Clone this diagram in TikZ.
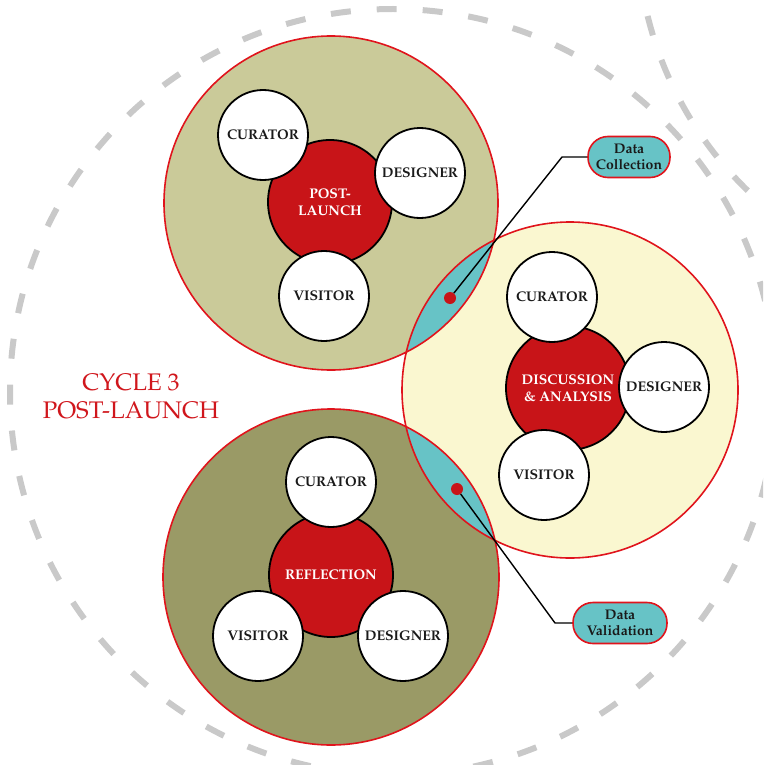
\documentclass[tikz,border=0pt]{standalone}
\usepackage[T1]{fontenc}
\renewcommand{\rmdefault}{ppl}
\definecolor{oliveLight}{HTML}{CACA99}
\definecolor{oliveDark}{HTML}{9A9A66}
\definecolor{paleYellow}{HTML}{FAF7D0}
\definecolor{lensTeal}{HTML}{67C3C6}
\definecolor{hubRed}{HTML}{C81418}
\definecolor{rimRed}{HTML}{E0141C}
\definecolor{titleRed}{HTML}{D0161C}
\definecolor{ink}{HTML}{1A1A1A}
\definecolor{cycleGray}{HTML}{C9C9C9}
\begin{document}
\begin{tikzpicture}[x=1pt,y=-1pt,
  cycleline/.style={draw=cycleGray, line width=6pt, dash pattern=on 20pt off 26pt},
  rim/.style={draw=rimRed, line width=1.6pt},
  hub/.style={circle, draw=black, line width=1.8pt, fill=hubRed, minimum size=124pt,
    inner sep=0pt, align=center, text=white,
    font=\bfseries\fontsize{14}{17}\selectfont},
  member/.style={circle, draw=black, line width=1.8pt, fill=white, minimum size=90pt,
    inner sep=0pt, text=ink, font=\bfseries\fontsize{14}{17}\selectfont},
  tag/.style={rectangle, rounded corners=20pt, draw=rimRed, line width=1.6pt,
    fill=lensTeal, minimum height=41pt, inner sep=0pt, align=center, text=ink,
    font=\bfseries\fontsize{14}{16}\selectfont},
  pin/.style={circle, fill=hubRed, minimum size=12pt, inner sep=0pt},
  leader/.style={draw=black, line width=1.4pt}
]
\useasboundingbox (0,0) rectangle (763,765);
\clip (0,0) rectangle (763,765);

% cycle outlines
\draw[cycleline] (393,392) circle (383pt);
\draw[cycleline] (1004,-72) circle (367pt);

% stage discs
\coordinate (topC) at (331,203);
\coordinate (rightC) at (570,390);
\coordinate (botC) at (331,577);
\fill[oliveLight] (topC) circle (167pt);
\fill[oliveDark] (botC) circle (168pt);
\fill[paleYellow] (rightC) circle (168pt);

% overlaps between stages
\begin{scope}
  \clip (topC) circle (167pt);
  \fill[lensTeal] (rightC) circle (168pt);
\end{scope}
\begin{scope}
  \clip (botC) circle (168pt);
  \fill[lensTeal] (rightC) circle (168pt);
\end{scope}

\draw[rim] (topC) circle (167pt);
\draw[rim] (botC) circle (168pt);
\draw[rim] (rightC) circle (168pt);

% callouts
\node[tag, minimum width=82pt] (collect) at (629,157) {Data\\Collection};
\node[tag, minimum width=94pt] (validate) at (620,623) {Data\\Validation};
\node[pin] (pinA) at (450,298) {};
\node[pin] (pinB) at (457,489) {};
\coordinate (bendA) at (562,157);
\coordinate (bendB) at (555,623);
\draw[leader] (pinA) -- (bendA) -- (collect);
\draw[leader] (pinB) -- (bendB) -- (validate);

% stage: post-launch
\node[hub] (hubT) at (330,202) {POST-\\LAUNCH};
\node[member] (curT) at (263,135) {CURATOR};
\node[member] (desT) at (420,173) {DESIGNER};
\node[member] (visT) at (324,296) {VISITOR};

% stage: discussion & analysis
\node[hub] (hubR) at (568,388) {DISCUSSION\\\& ANALYSIS};
\node[member] (curR) at (552,297) {CURATOR};
\node[member] (desR) at (664,387) {DESIGNER};
\node[member] (visR) at (544,475) {VISITOR};

% stage: reflection
\node[hub] (hubB) at (331,575) {REFLECTION};
\node[member] (curB) at (331,482) {CURATOR};
\node[member] (visB) at (258,636) {VISITOR};
\node[member] (desB) at (403,636) {DESIGNER};

% cycle title
\node[text=titleRed, align=center, font=\fontsize{24}{28}\selectfont] (title) at (131,396)
  {CYCLE 3\\POST-LAUNCH};
\end{tikzpicture}
\end{document}
